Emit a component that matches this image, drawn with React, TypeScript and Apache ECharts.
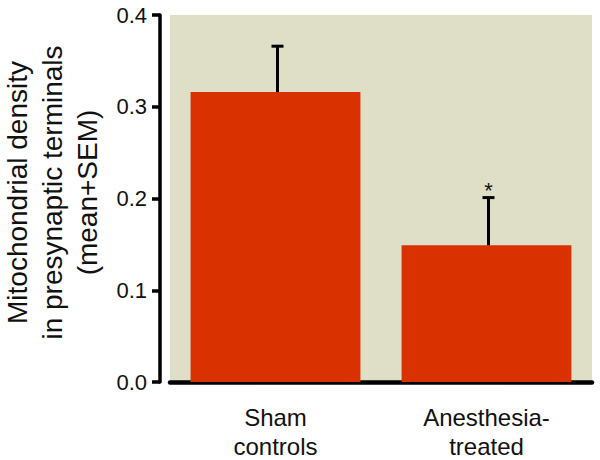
import React, { useEffect, useRef } from "react";
import * as echarts from "echarts";

const categories = ["Sham\ncontrols", "Anesthesia-\ntreated"];
const means = [0.316, 0.149];
const sems = [0.05, 0.052];
const marks = ["", "*"];
const yTicks = [0, 0.1, 0.2, 0.3, 0.4];

export default function App() {
  const ref = useRef<HTMLDivElement>(null);
  useEffect(() => {
    document.body.style.margin = "0";
    const chart = echarts.init(ref.current!, null, { renderer: "svg" });
    const font = "Liberation Sans, Arial, sans-serif";
    chart.setOption({
      animation: false,
      grid: {
        left: 170,
        right: 8,
        top: 15,
        bottom: 78,
        show: true,
        backgroundColor: "#dfdfc8",
        borderWidth: 0,
        outerBoundsMode: "none",
        containLabel: false,
      },
      xAxis: {
        type: "category",
        data: categories,
        offset: 7,
        axisLine: { lineStyle: { color: "#000", width: 4.5, cap: "round" } },
        axisTick: { alignWithLabel: true, length: 10, lineStyle: { color: "#000", width: 3.5 } },
        axisLabel: { color: "#111", fontSize: 24, fontFamily: font, margin: 14, lineHeight: 29 },
      },
      yAxis: {
        type: "value",
        min: yTicks[0],
        max: yTicks[yTicks.length - 1],
        interval: 0.1,
        offset: 10,
        splitLine: { show: false },
        axisLine: { show: true, lineStyle: { color: "#000", width: 3.5 } },
        axisTick: { show: true, length: 8, lineStyle: { color: "#000", width: 3.5 } },
        axisLabel: {
          color: "#111",
          fontSize: 22,
          fontFamily: font,
          margin: 13,
          formatter: (v: number) => v.toFixed(1),
        },
        name: "Mitochondrial density\nin presynaptic terminals\n(mean+SEM)",
        nameLocation: "middle",
        nameGap: 55,
        nameTextStyle: {
          color: "#111",
          fontSize: 28,
          fontFamily: font,
          lineHeight: 35,
          padding: [0, 0, 0, 12],
        },
      },
      series: [
        {
          type: "bar",
          data: means,
          barWidth: "80.5%",
          itemStyle: { color: "#da3100" },
        },
        {
          type: "custom",
          data: means.map((m, i) => [i, m, m + sems[i]]),
          renderItem: (params: any, api: any) => {
            const x = api.value(0);
            const base = api.coord([x, api.value(1)]);
            const top = api.coord([x, api.value(2)]);
            const cx = base[0] + 2;
            const mark = marks[params.dataIndex];
            const children: any[] = [
              {
                type: "line",
                shape: { x1: cx, y1: base[1], x2: cx, y2: top[1] },
                style: { stroke: "#000", lineWidth: 3 },
              },
              {
                type: "line",
                shape: { x1: cx - 6, y1: top[1], x2: cx + 6, y2: top[1] },
                style: { stroke: "#000", lineWidth: 3 },
              },
            ];
            if (mark) {
              children.push({
                type: "text",
                style: {
                  text: mark,
                  x: cx,
                  y: top[1] + 4,
                  textAlign: "center",
                  textVerticalAlign: "bottom",
                  fontSize: 22,
                  fontFamily: font,
                  fill: "#111",
                },
              });
            }
            return { type: "group", children };
          },
          z: 5,
        },
      ],
    });
    return () => chart.dispose();
  }, []);
  return <div ref={ref} style={{ width: 600, height: 460 }} />;
}
